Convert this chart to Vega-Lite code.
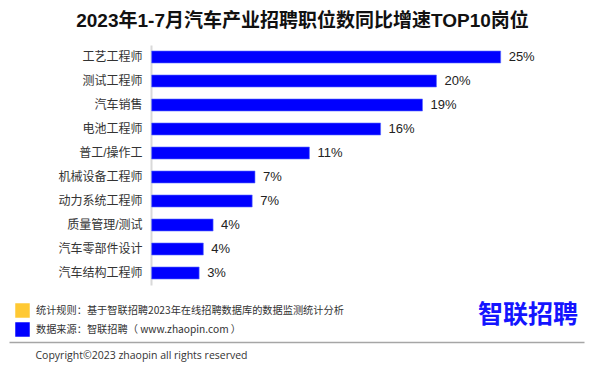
{
  "$schema": "https://vega.github.io/schema/vega-lite/v6.json",
  "autosize": {"type": "none"},
  "width": 575,
  "height": 240,
  "padding": {"left": 9, "top": 45, "right": 16, "bottom": 85},
  "background": "white",
  "title": {
    "text": "2023年1-7月汽车产业招聘职位数同比增速TOP10岗位",
    "font": "Liberation Sans, Noto Sans CJK SC",
    "fontSize": 19,
    "fontWeight": "bold",
    "color": "#111111",
    "anchor": "middle",
    "dx": 6,
    "offset": 14
  },
  "data": {
    "values": [
      {"job": "工艺工程师", "growth": 0.250},
      {"job": "测试工程师", "growth": 0.204},
      {"job": "汽车销售", "growth": 0.194},
      {"job": "电池工程师", "growth": 0.164},
      {"job": "普工/操作工", "growth": 0.113},
      {"job": "机械设备工程师", "growth": 0.074},
      {"job": "动力系统工程师", "growth": 0.072},
      {"job": "质量管理/测试", "growth": 0.044},
      {"job": "汽车零部件设计", "growth": 0.037},
      {"job": "汽车结构工程师", "growth": 0.034}
    ]
  },
  "encoding": {
    "y": {
      "field": "job",
      "type": "nominal",
      "sort": null,
      "scale": {"paddingInner": 0.5, "paddingOuter": 0.25},
      "axis": {
        "title": null,
        "ticks": false,
        "offset": -142,
        "labelPadding": 9,
        "labelFont": "Liberation Sans, Noto Sans CJK SC",
        "labelFontSize": 12,
        "labelColor": "#333333",
        "domainColor": "#d9d9d9",
        "domainWidth": 2
      }
    },
    "x": {
      "field": "growth",
      "type": "quantitative",
      "scale": {"domain": [-0.1022, 0.3097], "nice": false, "zero": false},
      "axis": {
        "orient": "bottom",
        "offset": 57,
        "labels": false,
        "ticks": false,
        "grid": false,
        "domainColor": "#a6a6a6",
        "domainWidth": 1.5,
        "title": "Copyright©2023 zhaopin all rights reserved",
        "titleFont": "Open Sans, Noto Sans CJK SC",
        "titleFontSize": 10.5,
        "titleFontWeight": "normal",
        "titleColor": "#333333",
        "titleAlign": "left",
        "titleBaseline": "middle",
        "titleAnchor": "start",
        "titleX": 26,
        "titleY": 13
      }
    }
  },
  "layer": [
    {
      "mark": {"type": "bar", "stroke": "#5a6bff", "strokeWidth": 0.6},
      "encoding": {
        "color": {
          "datum": "数据来源：智联招聘（ www.zhaopin.com ）",
          "type": "nominal",
          "scale": {
            "domain": ["统计规则：基于智联招聘2023年在线招聘数据库的数据监测统计分析", "数据来源：智联招聘（ www.zhaopin.com ）"],
            "range": ["#ffc933", "#0000ff"]
          },
          "legend": {
            "orient": "none",
            "legendX": 6,
            "legendY": 258,
            "direction": "vertical",
            "title": "智联招聘",
            "titleOrient": "right",
            "titleAnchor": "start",
            "titleBaseline": "top",
            "titleFont": "Noto Sans CJK SC",
            "titleFontSize": 25,
            "titleFontWeight": "bold",
            "titleColor": "#1414ff",
            "titlePadding": 134,
            "titleLimit": 300,
            "symbolType": "square",
            "symbolSize": 210,
            "symbolStrokeWidth": 0,
            "symbolOpacity": 1,
            "labelFont": "Noto Sans CJK SC",
            "labelFontSize": 10.2,
            "labelColor": "#333333",
            "labelOffset": 6,
            "labelLimit": 500,
            "rowPadding": 4,
            "padding": 0
          }
        }
      }
    },
    {
      "mark": {
        "type": "text",
        "align": "left",
        "baseline": "middle",
        "dx": 8,
        "font": "Liberation Sans",
        "fontSize": 13,
        "color": "#222222"
      },
      "encoding": {
        "text": {"field": "growth", "type": "quantitative", "format": ".0%"}
      }
    }
  ],
  "config": {
    "view": {"stroke": null}
  }
}
